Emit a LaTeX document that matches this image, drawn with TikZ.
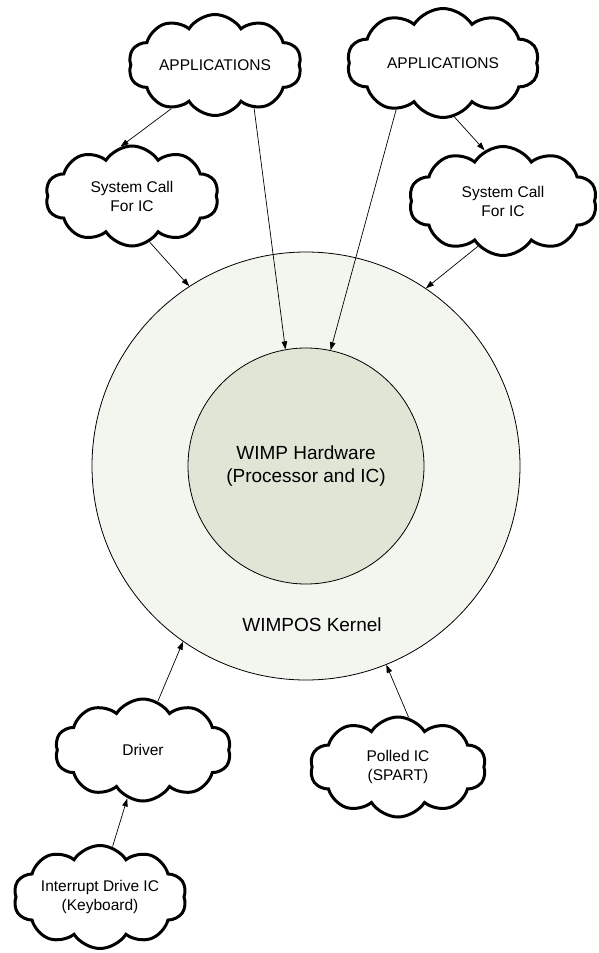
\documentclass[tikz,border=0pt]{standalone}
\usepackage{fontspec}
\setmainfont{Liberation Sans}
\usetikzlibrary{shapes.symbols,arrows.meta}
\definecolor{kernelfill}{RGB}{243,246,239}
\definecolor{hwfill}{RGB}{223,230,214}
\begin{document}
\begin{tikzpicture}[x=1pt,y=-1pt,
  puff/.style={cloud, draw, fill=white, line width=3pt, cloud puffs=10,
    cloud puff arc=115, cloud ignores aspect, inner sep=0pt, align=center,
    font=\fontsize{15.5}{19}\selectfont},
  ring/.style={circle, draw, line width=0.8pt, inner sep=0pt, align=center,
    font=\fontsize{19}{23.5}\selectfont},
  link/.style={line width=0.7pt, -{Triangle[length=8pt,width=5.5pt]}}]
\useasboundingbox (0,0) rectangle (599,953);

% kernel and hardware rings
\node[ring, fill=kernelfill, minimum size=428pt] (kernel) at (306,466) {};
\node[ring, fill=hwfill, minimum size=236pt] (hw) at (306,466)
  {WIMP Hardware\\(Processor and IC)};
\node[font=\fontsize{19}{23}\selectfont] (kernelname) at (312,625) {WIMPOS Kernel};

% clouds
\node[puff, minimum width=173pt, minimum height=101pt] (appL) at (215,65) {APPLICATIONS};
\node[puff, minimum width=192pt, minimum height=109pt] (appR) at (443,63) {APPLICATIONS};
\node[puff, minimum width=173pt, minimum height=100pt] (sysL) at (132,196) {System Call\\For IC};
\node[puff, minimum width=188pt, minimum height=109pt] (sysR) at (503,201) {System Call\\For IC};
\node[puff, minimum width=176pt, minimum height=102pt] (driver) at (143,750) {Driver};
\node[puff, minimum width=176pt, minimum height=100pt] (polled) at (398,767) {Polled IC\\(SPART)};
\node[puff, minimum width=173pt, minimum height=103pt] (intr) at (100,897) {Interrupt Drive IC\\(Keyboard)};

% connectors
\draw[link] (appL.-135) -- (sysL.103);
\draw[link] (appL.-48) -- (hw.100);
\draw[link] (appR.-135) -- (hw.78);
\draw[link] (appR.-78) -- (sysR.110);
\draw[link] (sysL.-69) -- (kernel.123);
\draw[link] (sysR.-119) -- (kernel.56);
\draw[link] (driver.73) -- (kernel.235);
\draw[link] (polled.78) -- (kernel.292);
\draw[link] (intr.76) -- (driver.-108);
\end{tikzpicture}
\end{document}
